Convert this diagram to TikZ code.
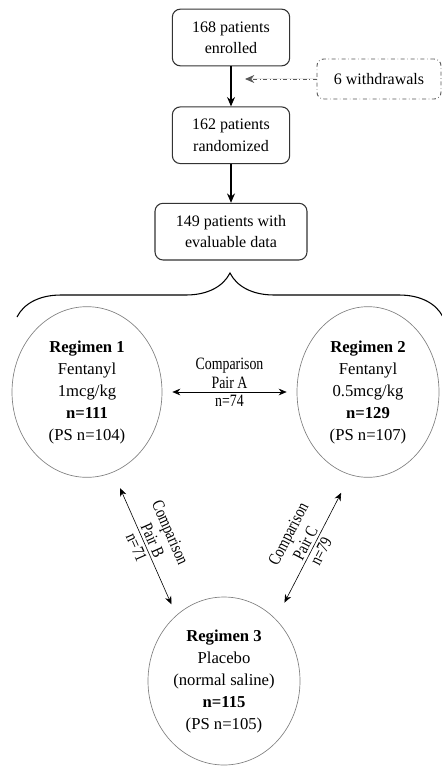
\documentclass[tikz,border=0pt]{standalone}
\usepackage{fontspec}
\setmainfont{Liberation Serif}
\newfontfamily\narrowserif[FakeStretch=0.8]{Liberation Serif}
\usetikzlibrary{positioning, arrows.meta, shapes.geometric, calc, decorations.pathreplacing}

\begin{document}
\begin{tikzpicture}[
    x=0.75pt, y=-0.75pt,
    font=\fontsize{12}{16}\selectfont,
    flow/.style={draw=black!80, rectangle, rounded corners=6pt, minimum width=88pt, minimum height=42.5pt, align=center, line width=0.8pt},
    wdr/.style={draw=black!65, rectangle, rounded corners=5pt, dash dot, minimum width=93pt, minimum height=30pt, line width=0.7pt},
    grp/.style={draw=black!50, ellipse, inner sep=0pt, align=center, line width=0.5pt, font=\fontsize{12.5}{16.5}\selectfont},
    arr/.style={-{Stealth[length=7pt, width=6pt]}, line width=0.9pt},
    cmp/.style={{Stealth[length=6pt, width=5pt]}-{Stealth[length=6pt, width=5pt]}, line width=0.45pt},
    lbl/.style={font=\narrowserif\fontsize{13}{14.5}\selectfont, align=center, inner sep=2pt}
]
    \useasboundingbox (0,0) rectangle (442,767);

    \node[flow] (enr) at (231,37.5) {168 patients\\enrolled};
    
    \node[flow] (rand) [below=30pt of enr] {162 patients\\randomized};
    
    \node[flow, minimum width=114pt] (eval) [below=29pt of rand] {149 patients with\\evaluable data};
    
    \node[wdr] (wd) at (379,79) {6 withdrawals};
    \coordinate (gap) at ([xshift=10.5pt]enr.south);
    
    \draw[arr] (enr) -- (rand);
    \draw[arr] (rand) -- (eval);
    \draw[-{Stealth[length=7pt, width=6pt]}, dash dot, draw=black!65, fill=black!65, line width=0.7pt] (wd.west) -- (wd.west -| gap);
    
    % groups
    \draw[decorate, decoration={brace, amplitude=33pt}, line width=0.8pt] (17,317) -- (443,317);
    
    \node[grp, minimum width=112.5pt, minimum height=128pt] (r1) at (87,392) {\textbf{Regimen 1}\\Fentanyl\\1mcg/kg\\\textbf{n=111}\\(PS n=104)};
    
    \node[grp, minimum width=106.5pt, minimum height=128pt] (r2) at (368,392) {\textbf{Regimen 2}\\Fentanyl\\0.5mcg/kg\\\textbf{n=129}\\(PS n=107)};
    
    \node[grp, minimum width=114pt, minimum height=126pt] (r3) at (224,681) {\textbf{Regimen 3}\\Placebo\\(normal saline)\\\textbf{n=115}\\(PS n=105)};
    
    \draw[cmp, shorten <=7.5pt, shorten >=7.5pt] (r1) -- node[lbl, above] {Comparison\\Pair A} node[lbl, below] {n=74} (r2);
    \draw[cmp, shorten <=13pt, shorten >=9pt] (r1.-72) -- node[lbl, sloped, above] {Comparison\\Pair B} node[lbl, sloped, below] {n=71} (r3.126);
    \draw[cmp, shorten <=14pt, shorten >=15pt] (r3.50) -- node[lbl, sloped, above] {Comparison\\Pair C} node[lbl, sloped, below] {n=79} (r2.-102);
\end{tikzpicture}
\end{document}
